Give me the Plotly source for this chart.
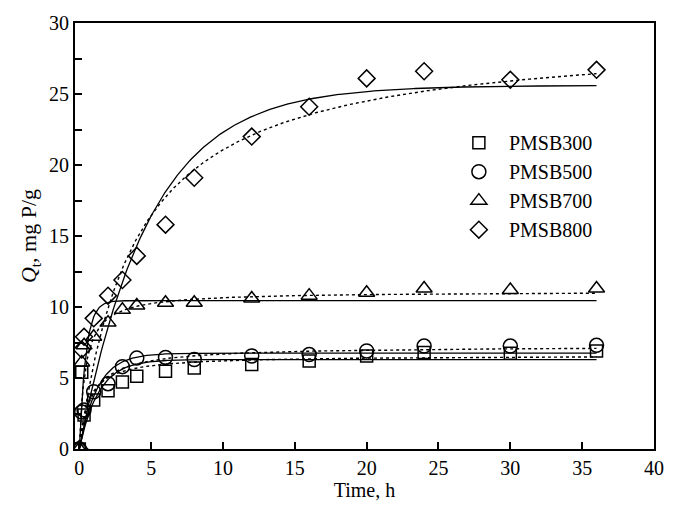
import numpy as np
import plotly.graph_objects as go

# Experimental data
time_h = [0, 0.17, 0.33, 1, 2, 3, 4, 6, 8, 12, 16, 20, 24, 30, 36]
pmsb300 = [0, 5.4, 2.4, 3.45, 4.1, 4.72, 5.12, 5.47, 5.7, 5.95, 6.2, 6.55, 6.8, 6.75, 6.9]
pmsb500 = [0, 2.6, 2.75, 4.03, 4.6, 5.8, 6.4, 6.45, 6.3, 6.55, 6.65, 6.9, 7.25, 7.25, 7.3]
pmsb700 = [0, 6.1, 7.3, 7.9, 8.9, 9.8, 10.1, 10.3, 10.3, 10.6, 10.8, 11.0, 11.3, 11.2, 11.3]
pmsb800 = [0, 7.0, 7.9, 9.2, 10.8, 11.9, 13.6, 15.8, 19.1, 22.0, 24.1, 26.1, 26.6, 26.0, 26.7]
names = ["PMSB300", "PMSB500", "PMSB700", "PMSB800"]

# Fit parameters (pseudo-first / pseudo-second order)
pfo_qe = [6.3, 6.75, 10.45, 25.6]
pfo_k = [0.75, 0.8, 2.2, 0.205]
pso_qe = [6.6, 7.25, 11.1, 29.3]
pso_a = [1.6, 1.2, 2.4, 0.256]   # a = qe * k2

series = [pmsb300, pmsb500, pmsb700, pmsb800]
symbols = ["square-open", "circle-open", "triangle-up-open", "diamond-open"]
sizes = [12, 14, 14, 13]

FONT = "Liberation Serif, Times New Roman, serif"
fig = go.Figure()

tfit = np.linspace(0, 36, 400)
for i in range(4):
    pfo = pfo_qe[i] * (1 - np.exp(-pfo_k[i] * tfit))
    pso = pso_qe[i] * pso_a[i] * tfit / (1 + pso_a[i] * tfit)
    fig.add_trace(go.Scatter(x=tfit, y=pfo, mode="lines", showlegend=False,
                             line=dict(color="black", width=1.3), hoverinfo="skip"))
    fig.add_trace(go.Scatter(x=tfit, y=pso, mode="lines", showlegend=False,
                             line=dict(color="black", width=1.4, dash="dot"), hoverinfo="skip"))

for i in range(4):
    fig.add_trace(go.Scatter(x=time_h, y=series[i], mode="markers", name="\u2002" + names[i],
                             marker=dict(symbol=symbols[i], size=sizes[i], color="black",
                                         line=dict(width=1.5, color="black"))))

fig.update_layout(
    width=676, height=509,
    margin=dict(l=75, r=12, t=23, b=56),
    paper_bgcolor="white", plot_bgcolor="white",
    font=dict(family=FONT, size=20, color="black"),
    legend=dict(x=0.663, y=0.617, xanchor="left", yanchor="middle",
                bgcolor="rgba(0,0,0,0)", font=dict(size=20, family=FONT),
                itemsizing="trace", tracegroupgap=0),
    xaxis=dict(range=[-0.3, 40], tickvals=[0, 5, 10, 15, 20, 25, 30, 35, 40],
               ticks="inside", ticklen=7, tickwidth=1.5, tickcolor="black",
               showline=True, linecolor="black", linewidth=2, mirror=True,
               showgrid=False, zeroline=False,
               title=dict(text="Time, h", font=dict(size=20, family=FONT), standoff=4),
               tickfont=dict(size=20, family=FONT)),
    yaxis=dict(range=[0, 30], tickvals=[0, 5, 10, 15, 20, 25, 30],
               ticks="inside", ticklen=7, tickwidth=1.5, tickcolor="black",
               minor=dict(tickvals=[2.5, 7.5, 12.5, 17.5, 22.5, 27.5], ticks="inside",
                          ticklen=7, tickwidth=1.5, tickcolor="black"),
               showline=True, linecolor="black", linewidth=2, mirror=True,
               showgrid=False, zeroline=False,
               title=dict(text="<i>Q</i><sub>t</sub>, mg P/g", font=dict(size=22, family=FONT), standoff=6),
               tickfont=dict(size=20, family=FONT)),
)

fig.write_html("out.html")
